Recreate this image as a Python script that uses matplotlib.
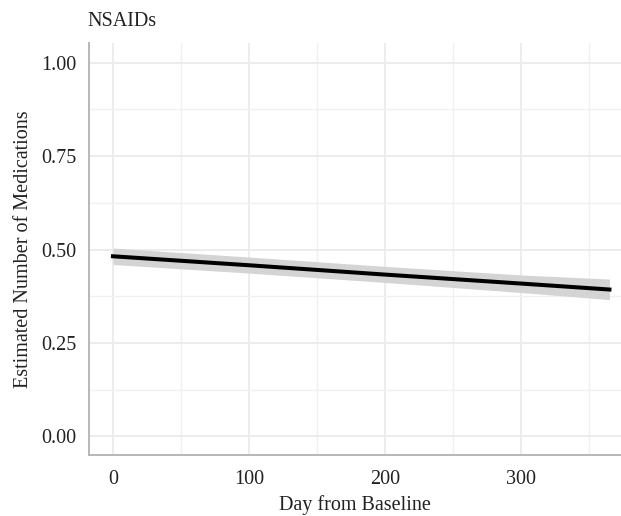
import numpy as np
import matplotlib.pyplot as plt

# values
days = [0, 100, 200, 300, 365]
estimate = [0.482, 0.458, 0.433, 0.409, 0.393]
lower = [0.460, 0.437, 0.412, 0.385, 0.366]
upper = [0.504, 0.480, 0.455, 0.432, 0.421]

x_ticks = [0, 100, 200, 300]
y_ticks = [0.00, 0.25, 0.50, 0.75, 1.00]

plt.rcParams['font.family'] = ['Liberation Serif', 'DejaVu Serif']
fs = 14.5
txt = '#222222'

fig = plt.figure(figsize=(6.21, 5.16), dpi=100)
ax = fig.add_axes([89 / 621, 1 - 455 / 516, 1 - 89 / 621, (455 - 43) / 516])

ax.fill_between(days, lower, upper, color='#d4d4d4', lw=0, zorder=2)
ax.plot(days, estimate, color='black', lw=2.9, zorder=3)

ax.set_xlim(-17.6, 373.5)
ax.set_ylim(-0.05, 1.053)
ax.set_xticks(x_ticks)
ax.set_yticks(y_ticks)
ax.set_yticklabels([f'{v:.2f}' for v in y_ticks])
ax.set_xticks([50, 150, 250, 350], minor=True)
ax.set_yticks([0.125, 0.375, 0.625, 0.875], minor=True)

ax.grid(which='major', color='#ebebeb', lw=1.3, zorder=0)
ax.grid(which='minor', color='#f0f0f0', lw=1.0, zorder=0)
ax.set_axisbelow(True)

for s in ['top', 'right']:
    ax.spines[s].set_visible(False)
for s in ['left', 'bottom']:
    ax.spines[s].set_color('#b8b8b8')
    ax.spines[s].set_linewidth(1.4)

ax.tick_params(which='both', length=0, labelsize=fs, colors=txt)
ax.tick_params(axis='x', pad=11)
ax.tick_params(axis='y', pad=9)

ax.set_xlabel('Day from Baseline', fontsize=fs, color=txt, labelpad=4)
ax.set_ylabel('Estimated Number of Medications', fontsize=fs, color=txt, labelpad=6)
fig.text(87 / 621, 1 - 22 / 516, 'NSAIDs', fontsize=fs, color=txt, va='center', ha='left')

fig.savefig('out.png', dpi=100)
